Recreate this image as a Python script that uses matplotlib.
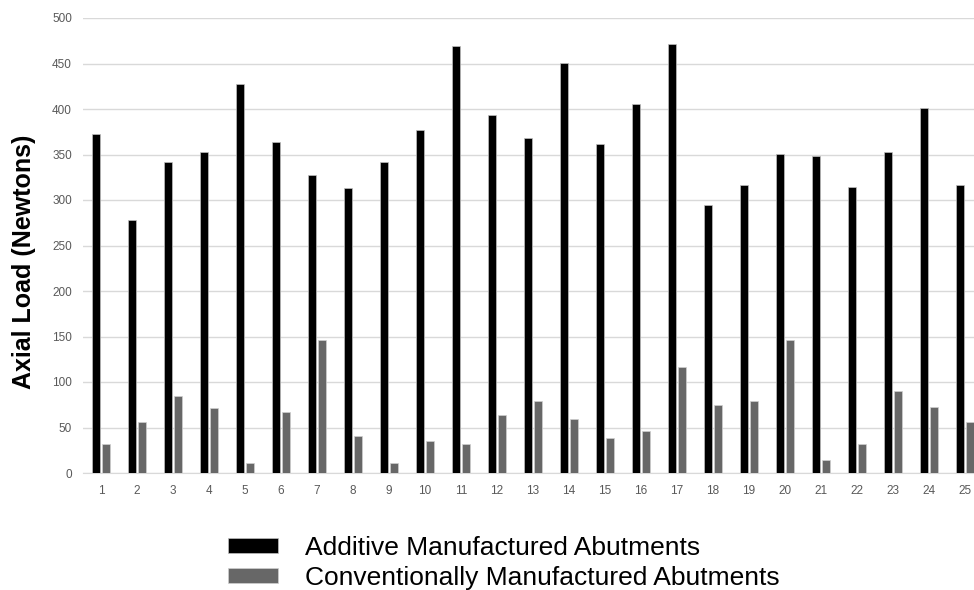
import numpy as np
import matplotlib.pyplot as plt

plt.rcParams['font.family'] = ['Liberation Sans', 'DejaVu Sans']

samples = [str(i) for i in range(1, 26)]
additive = [372, 278, 342, 353, 427, 364, 328, 313, 342, 377, 469, 393, 368,
            451, 362, 406, 471, 295, 316, 351, 348, 314, 353, 401, 316]
conventional = [32, 56, 85, 71, 11, 67, 146, 41, 11, 35, 32, 64, 79,
                59, 38, 46, 117, 75, 79, 146, 14, 32, 90, 72, 56]

fig = plt.figure(figsize=(9.74, 5.9), dpi=100)
# axes runs slightly past the right edge, as in the reference
ax = fig.add_axes([83 / 974, 117 / 590, 900 / 974, 455 / 590])

x = np.arange(len(samples))
w = 0.23
ax.bar(x - w / 2 - 0.03, additive, w, color='black', edgecolor='#bfbfbf',
       linewidth=0.5, label='Additive Manufactured Abutments', zorder=3)
ax.bar(x + w / 2 + 0.03, conventional, w, color='#676767', edgecolor='#d0d0d0',
       linewidth=0.5, label='Conventionally Manufactured Abutments', zorder=3)

ax.set_xlim(-0.5, len(samples) - 0.5)
ax.set_ylim(0, 500)
ax.set_yticks(range(0, 501, 50))
ax.set_xticks(x)
ax.set_xticklabels(samples)
ax.tick_params(length=0, labelsize=8.5, labelcolor='#595959')
ax.tick_params(axis='y', pad=8)
ax.tick_params(axis='x', pad=9)
ax.grid(axis='y', color='#d9d9d9', linewidth=1, zorder=0)
for s in ['top', 'right', 'left']:
    ax.spines[s].set_visible(False)
ax.spines['bottom'].set_color('#d9d9d9')

ax.set_ylabel('Axial Load (Newtons)', fontsize=18, fontweight='bold')
ax.yaxis.set_label_coords(-47 / 900, 0.465)

fig.legend(loc='center left', bbox_to_anchor=(228 / 974, 27 / 590), frameon=False,
           fontsize=19, handlelength=1.9, handleheight=0.5, handletextpad=1.0,
           labelspacing=0.25, borderpad=0, borderaxespad=0)

fig.savefig('out.png', dpi=100)
